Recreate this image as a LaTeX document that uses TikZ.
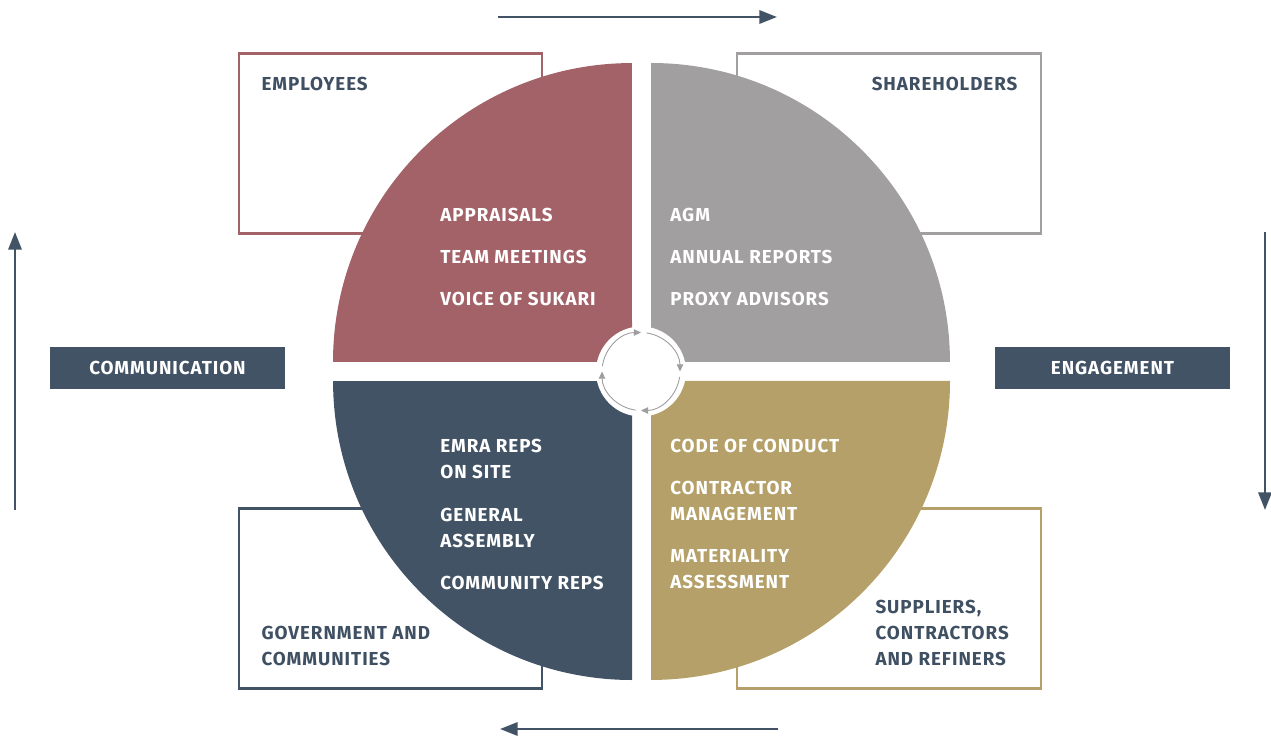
\documentclass[tikz,border=0pt]{standalone}
\usepackage{fontspec}
\setmainfont{Fira Sans}[LetterSpace=5]
\usetikzlibrary{arrows.meta, positioning}

\definecolor{empred}{HTML}{A36268}
\definecolor{shgray}{HTML}{A19FA0}
\definecolor{govslate}{HTML}{425366}
\definecolor{supgold}{HTML}{B4A068}
\definecolor{inkblue}{HTML}{405063}
\definecolor{hubgray}{HTML}{9E9E9E}

\begin{document}
\begin{tikzpicture}[
    x=0.02cm, y=-0.02cm,
    font=\fontsize{10.7}{14.8}\selectfont\bfseries,
    >={Triangle[length=10pt, width=7.5pt]},
    every node/.style={align=left, inner sep=0pt},
    group/.style={draw=#1, line width=1.2pt,
                  minimum width=6.07cm, minimum height=3.6cm},
    tag/.style={fill=govslate, text=white, align=center,
                minimum width=4.7cm, minimum height=0.84cm},
    item/.style={anchor=north west, text=white},
    who/.style={text=inkblue},
    flow/.style={->, line width=1.4pt, govslate},
    cyc/.style={-{Triangle[length=4pt, width=3.6pt]}, hubgray, line width=0.5pt}
]
\useasboundingbox (0,0) rectangle (1271,736);

%-------------------------------
% 1) Stakeholder boxes
%-------------------------------
\node[group=empred]   (employees)    at (390.5,143.5) {};
\node[group=shgray]   (shareholders) at (889,143.5)   {};
\node[group=govslate] (government)   at (390.5,598.5) {};
\node[group=supgold]  (suppliers)    at (889,598.5)   {};

\node[who, below right=0.48cm and 0.47cm of employees.north west] (emplabel)
      {EMPLOYEES};
\node[who, below left=0.48cm and 0.48cm of shareholders.north east] (shlabel)
      {SHAREHOLDERS};
\node[who, above right=0.46cm and 0.47cm of government.south west] (govlabel)
      {GOVERNMENT AND\\COMMUNITIES};
\node[who, above right=0.46cm and 2.78cm of suppliers.south west] (suplabel)
      {SUPPLIERS,\\CONTRACTORS\\AND REFINERS};

%-------------------------------
% 2) Quarter discs
%-------------------------------
\fill[empred]   (632,362) -- ++(-299,0)
      arc[start angle=180, end angle=90, radius=5.98cm] -- cycle;
\fill[shgray]   (651,362) -- ++(0,-299)
      arc[start angle=90, end angle=0, radius=5.98cm] -- cycle;
\fill[supgold]  (651,381) -- ++(299,0)
      arc[start angle=0, end angle=-90, radius=5.98cm] -- cycle;
\fill[govslate] (632,381) -- ++(0,299)
      arc[start angle=270, end angle=180, radius=5.98cm] -- cycle;

% channels in each quarter
\node[item] (appraisals) at (440,207.5) {APPRAISALS};
\node[item] (teammeet)   at (440,249.5) {TEAM MEETINGS};
\node[item] (voice)      at (440,291.5) {VOICE OF SUKARI};

\node[item] (agm)        at (670,207.5) {AGM};
\node[item] (annual)     at (670,249.5) {ANNUAL REPORTS};
\node[item] (proxy)      at (670,291.5) {PROXY ADVISORS};

\node[item] (emra)       at (440,438.5) {EMRA REPS\\ON SITE};
\node[item] (assembly)   at (440,507.5) {GENERAL\\ASSEMBLY};
\node[item] (commreps)   at (440,575.5) {COMMUNITY REPS};

\node[item] (conduct)    at (670,438.5) {CODE OF CONDUCT};
\node[item] (contractor) at (670,480.5) {CONTRACTOR\\MANAGEMENT};
\node[item] (material)   at (670,549.5) {MATERIALITY\\ASSESSMENT};

%-------------------------------
% 3) Hub with cycle arrows
%-------------------------------
\node[circle, fill=white, minimum size=1.8cm] (hub) at (641,371.5) {};
\foreach \a in {180,90,0,-90}
  \draw[cyc] ([shift={(\a-8:0.78cm)}]hub.center)
      arc[start angle=\a-8, end angle=\a-90, radius=0.78cm];

%-------------------------------
% 4) Side tags and outer arrows
%-------------------------------
\node[tag] (communication) at (167.5,368)  {COMMUNICATION};
\node[tag] (engagement)    at (1112.5,368) {ENGAGEMENT};

\coordinate (leftfoot)  at (15,510);
\coordinate (lefthead)  at (15,232);
\coordinate (topfoot)   at (498,17);
\coordinate (tophead)   at (777,17);
\coordinate (rightfoot) at (1265,232);
\coordinate (righthead) at (1265,510);
\coordinate (lowfoot)   at (778,729);
\coordinate (lowhead)   at (500,729);

\draw[flow] (leftfoot)  -- (lefthead);
\draw[flow] (topfoot)   -- (tophead);
\draw[flow] (rightfoot) -- (righthead);
\draw[flow] (lowfoot)   -- (lowhead);

\end{tikzpicture}
\end{document}
